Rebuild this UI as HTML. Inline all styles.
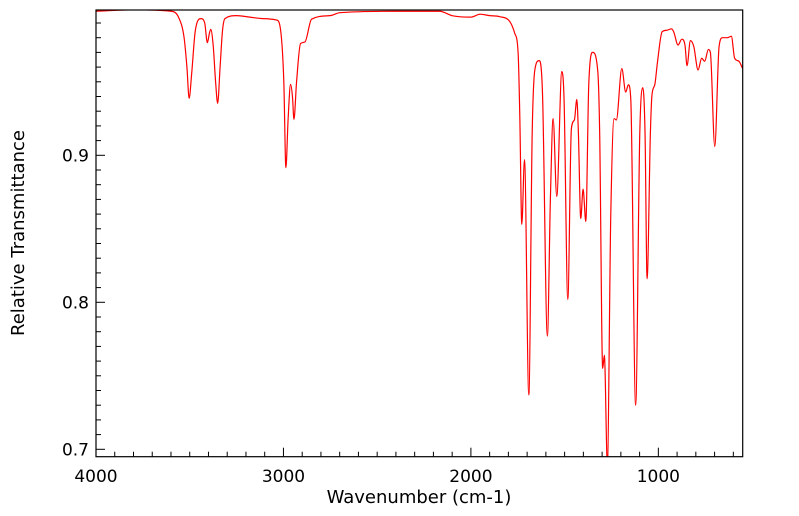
<!DOCTYPE html>
<html><head><meta charset="utf-8"><style>
body{margin:0;background:#fff;}
svg{display:block;font-family:"DejaVu Sans","Liberation Sans",sans-serif;}
</style></head><body>
<svg id="chart" width="799" height="516">
<defs><clipPath id="pc"><rect x="96" y="10" width="646.7" height="446.7"/></clipPath></defs>
<g id="ticks"></g>
<path id="spectrum" fill="none" stroke="#ff0000" stroke-width="1.2" clip-path="url(#pc)"/>
<rect x="96" y="10" width="646.7" height="446.7" fill="none" stroke="#000" stroke-width="1.2"/>
<text x="419" y="503" text-anchor="middle" font-size="18">Wavenumber (cm-1)</text>
<text transform="translate(24,233) rotate(-90)" text-anchor="middle" font-size="18">Relative Transmittance</text>
</svg>
<script>
const wavenumbers=[4000,3800,3600,3560,3530,3515,3503,3490,3470,3440,3420,3406,3395,3388,3375,3362,3351,3338,3325,3312,3250,3180,3110,3036,3015,2998,2987,2975,2962,2952,2944,2930,2909,2886,2850,2752,2699,2400,2166,2100,2000,1950,1900,1846,1792,1766,1748,1739,1728.5,1714,1691,1673,1659,1636,1618,1592,1576,1561.4,1542,1515,1503,1483,1464,1448,1435,1426.5,1414,1401.5,1387,1371,1350,1323,1313,1297,1288,1272,1254,1236,1224,1195,1174,1160,1147,1121,1099,1083,1071,1060,1042.5,1034,1019,1005,980,957,930,918,895,875,858,847,829,811,788,769,753,733,722.5,699,676,658,632,610.5,593,570,554,550];
const transmittance=[0.998,0.999,0.998,0.994,0.98,0.96,0.9388,0.955,0.985,0.993,0.99,0.9766,0.983,0.9857,0.975,0.95,0.9354,0.96,0.985,0.993,0.995,0.994,0.993,0.992,0.985,0.95,0.8916,0.925,0.9483,0.94,0.9245,0.95,0.976,0.977,0.9926,0.995,0.997,0.998,0.998,0.995,0.994,0.996,0.995,0.9943,0.9909,0.983,0.9694,0.926,0.853,0.897,0.737,0.915,0.958,0.9644,0.942,0.777,0.870,0.925,0.872,0.957,0.938,0.802,0.918,0.924,0.938,0.915,0.857,0.877,0.855,0.949,0.970,0.957,0.915,0.755,0.764,0.69,0.858,0.925,0.924,0.959,0.943,0.948,0.938,0.730,0.915,0.946,0.915,0.816,0.915,0.941,0.948,0.963,0.984,0.985,0.986,0.984,0.975,0.979,0.975,0.961,0.978,0.974,0.958,0.966,0.964,0.972,0.970,0.906,0.974,0.980,0.980,0.981,0.966,0.964,0.960,0.959];
const xTickValues=[4000,3000,2000,1000];
const yTickValues=[0.7,0.8,0.9];
const xMax=4000,xMin=550,pL=96,pR=742.7,pT=10,pB=456.7;
function xs(w){return pL+(xMax-w)/(xMax-xMin)*(pR-pL);}
function ys(t){return 155.3-(t-0.9)*1470;}
const n=Math.min(wavenumbers.length,transmittance.length);
const X=[],Y=[];
for(let i=0;i<n;i++){X.push(xs(wavenumbers[i]));Y.push(ys(transmittance[i]));}
// monotone cubic (Fritsch-Carlson)
const dl=[],m=[];
for(let i=0;i<n-1;i++){dl.push((Y[i+1]-Y[i])/(X[i+1]-X[i]));}
m[0]=dl[0];m[n-1]=dl[n-2];
for(let i=1;i<n-1;i++){m[i]=(dl[i-1]*dl[i]<=0)?0:(dl[i-1]+dl[i])/2;}
for(let i=0;i<n-1;i++){if(dl[i]===0){m[i]=0;m[i+1]=0;continue;}const a=m[i]/dl[i],b=m[i+1]/dl[i];const s=a*a+b*b;if(s>9){const t=3/Math.sqrt(s);m[i]=t*a*dl[i];m[i+1]=t*b*dl[i];}}
let d='M'+X[0].toFixed(2)+','+Y[0].toFixed(2);
for(let i=0;i<n-1;i++){const h=(X[i+1]-X[i])/3;d+='C'+(X[i]+h).toFixed(2)+','+(Y[i]+m[i]*h).toFixed(2)+' '+(X[i+1]-h).toFixed(2)+','+(Y[i+1]-m[i+1]*h).toFixed(2)+' '+X[i+1].toFixed(2)+','+Y[i+1].toFixed(2);}
document.getElementById('spectrum').setAttribute('d',d);
const g=document.getElementById('ticks');
const NS='http://www.w3.org/2000/svg';
function line(x1,y1,x2,y2){const l=document.createElementNS(NS,'line');l.setAttribute('x1',x1);l.setAttribute('y1',y1);l.setAttribute('x2',x2);l.setAttribute('y2',y2);l.setAttribute('stroke','#000');l.setAttribute('stroke-width','1');


g.appendChild(l);}
for(let w=4000;w>=600;w-=100){const x=xs(w);line(x,pB,x,pB-(w%1000===0?9:5));}
for(let k=70;k<=100;k++){const t=k/100;const y=ys(t);if(y<pT)continue;line(pL,y,pL+(k%10===0?9:5),y);}
xTickValues.forEach(v=>{const t=document.createElementNS(NS,'text');t.setAttribute('x',xs(v));t.setAttribute('y',482);t.setAttribute('text-anchor','middle');t.setAttribute('font-size','17');t.textContent=v;


g.appendChild(t);});
yTickValues.forEach(v=>{const t=document.createElementNS(NS,'text');t.setAttribute('x',89);t.setAttribute('y',ys(v)+6);t.setAttribute('text-anchor','end');t.setAttribute('font-size','17');t.textContent=v.toFixed(1);


g.appendChild(t);});
</script>
</body></html>
